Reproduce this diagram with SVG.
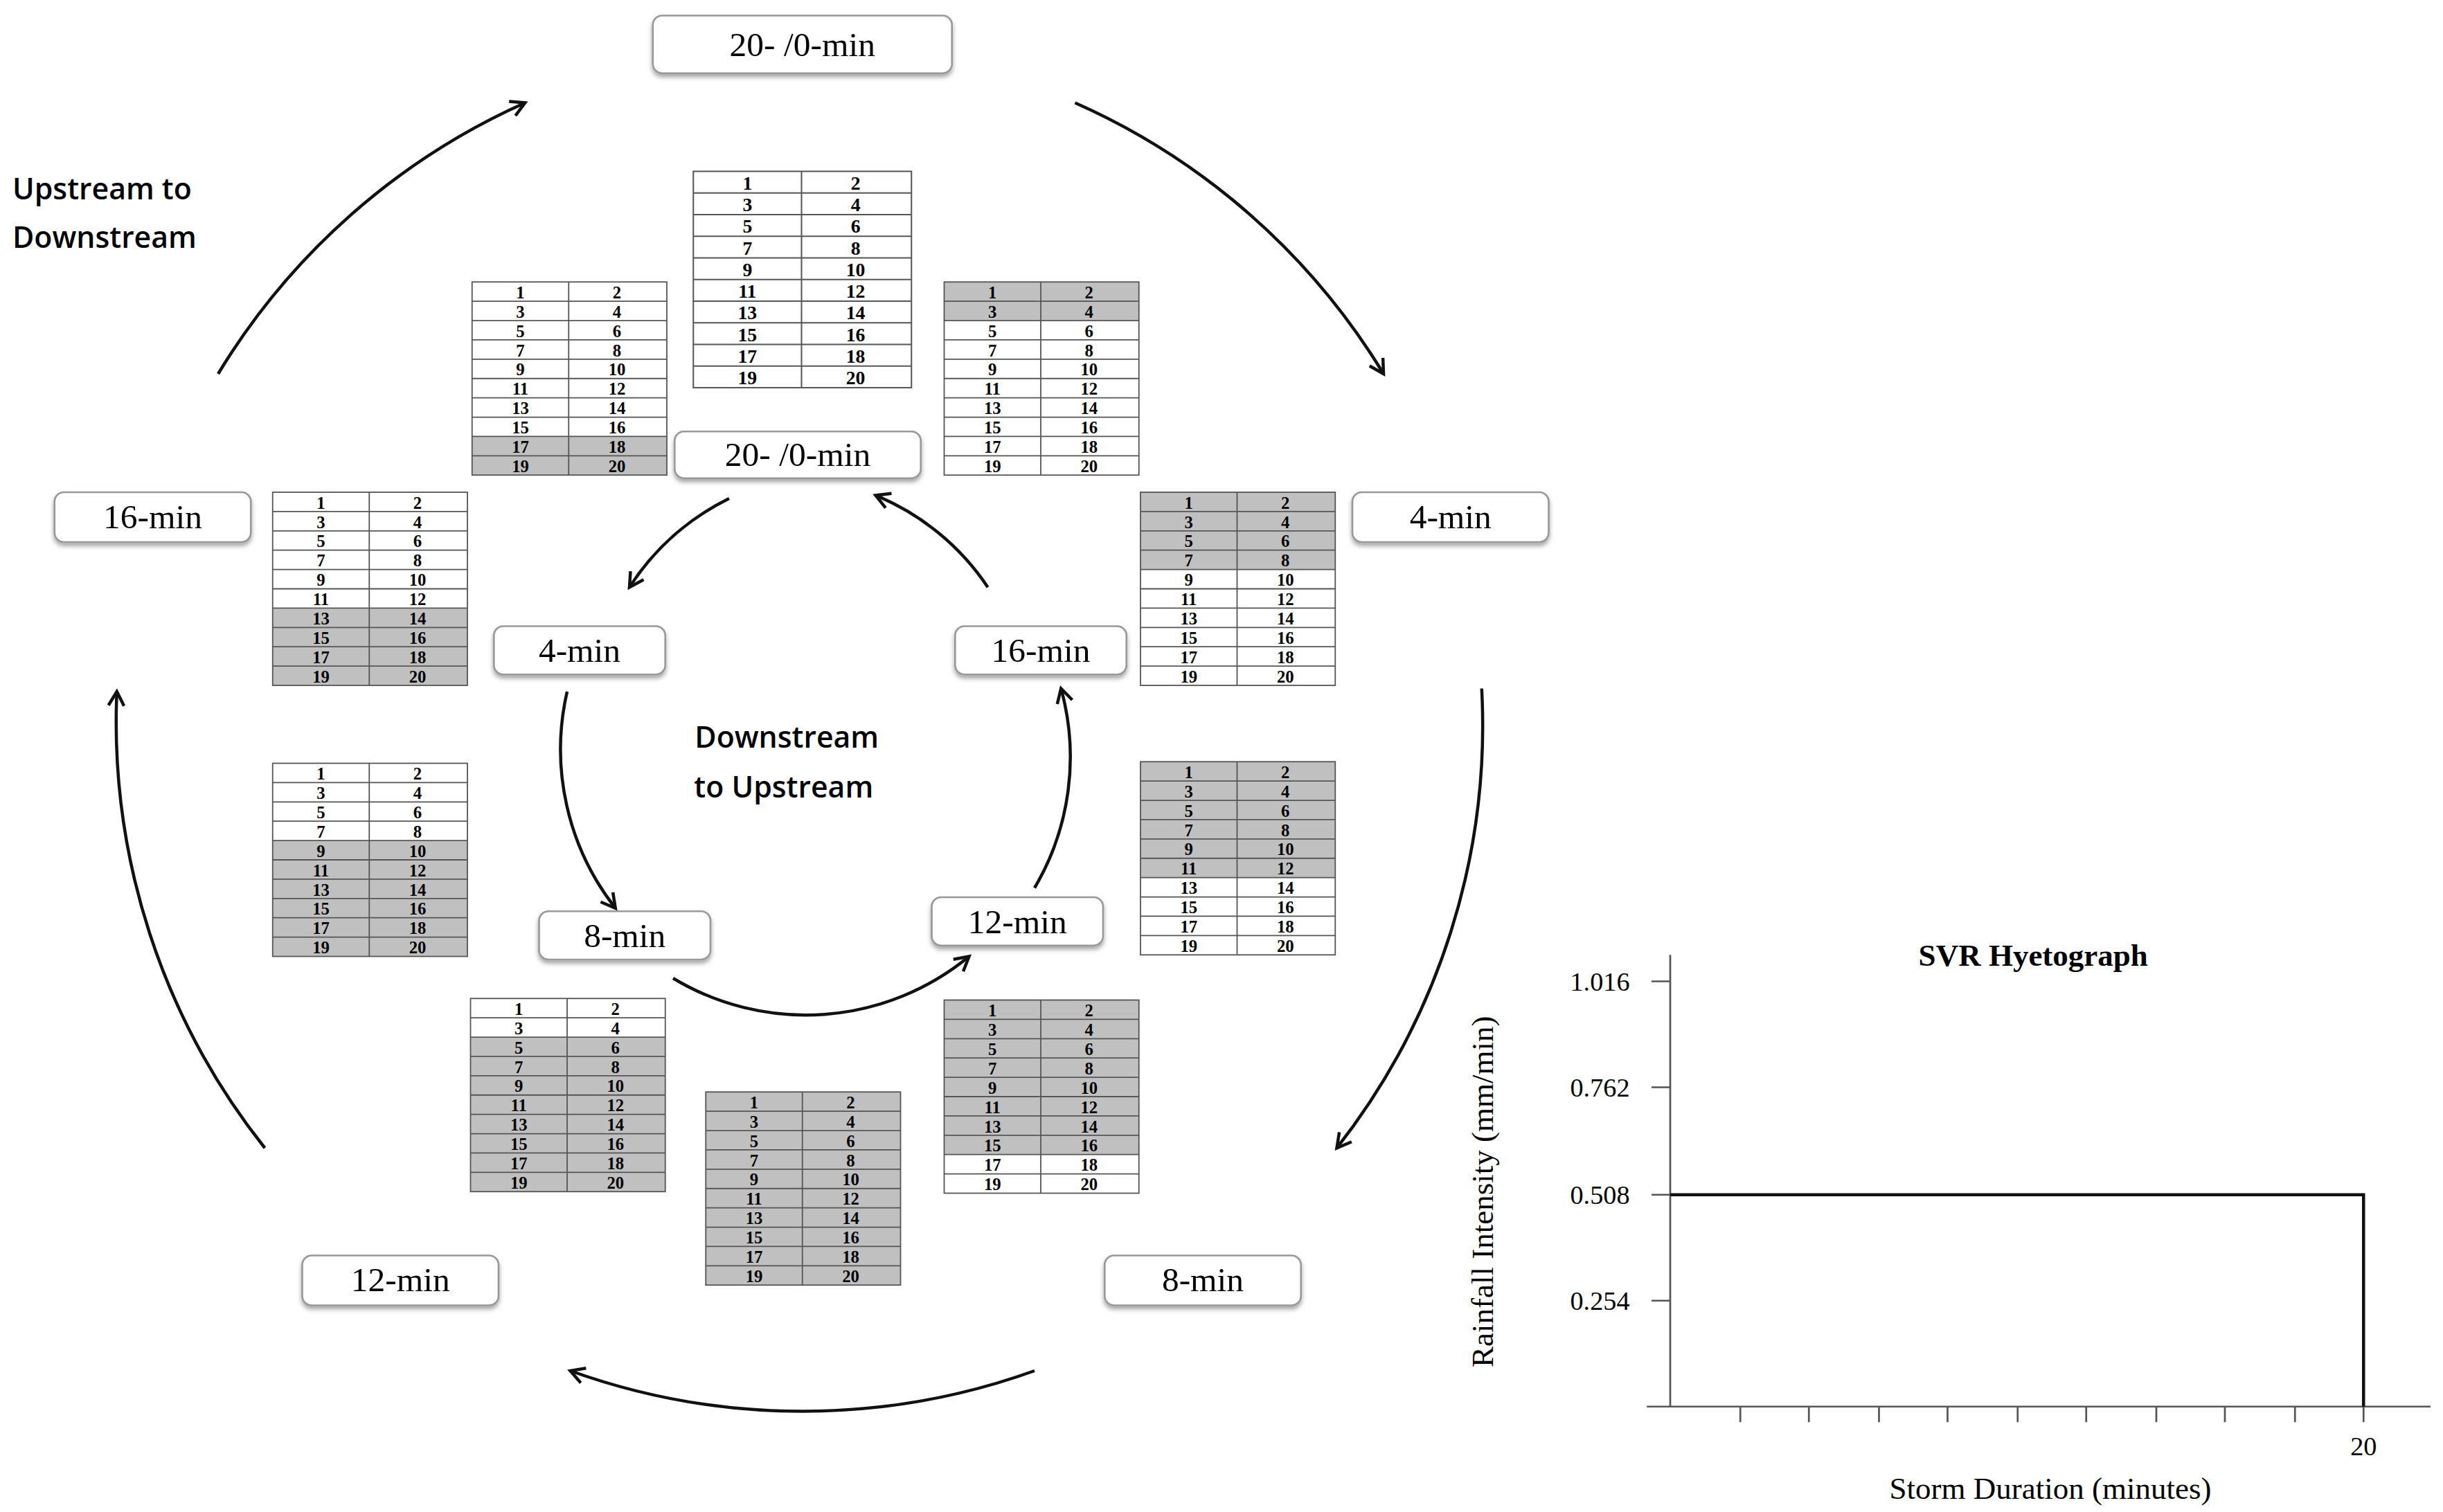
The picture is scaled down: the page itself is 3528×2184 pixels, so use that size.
<svg xmlns="http://www.w3.org/2000/svg" xmlns:xlink="http://www.w3.org/1999/xlink" width="3528" height="2184" viewBox="0 0 3528 2184">
<style>
.n{font-family:"Liberation Serif",serif;font-weight:bold;font-size:11px;text-anchor:middle}
.lb{font-family:"Liberation Serif",serif;font-size:22px;text-anchor:middle}
.box{fill:#fff;stroke:#999;stroke-width:1.2}
.sh{fill:#c0c0c0}
.bg{fill:#fff}
.arc{fill:none;stroke:#111;stroke-width:2}
.ax{fill:none;stroke:#555;stroke-width:1.2}
.tk{font-family:"Liberation Serif",serif;font-size:17px}
.cal{font-family:"Open Sans","Liberation Sans",sans-serif;font-weight:600;font-size:19px}
</style>
<defs>
<marker id="ah" viewBox="0 0 12 12" refX="10" refY="6" markerWidth="12" markerHeight="12" markerUnits="userSpaceOnUse" orient="auto">
<path d="M1,1 L10,6 L1,11" fill="none" stroke="#111" stroke-width="2"/>
</marker>
<filter id="ds" x="-10%" y="-20%" width="120%" height="160%"><feDropShadow dx="0" dy="2" stdDeviation="1.5" flood-opacity="0.35"/></filter>
<g id="tbl">
<g fill="none" stroke="#555" stroke-width="0.8">
<rect x="0" y="0" width="125" height="124"/>
<line x1="62" y1="0" x2="62" y2="124"/>
<path d="M0,12.4H125M0,24.8H125M0,37.2H125M0,49.6H125M0,62H125M0,74.4H125M0,86.8H125M0,99.2H125M0,111.6H125"/>
</g>
<g class="n">
<text x="31" y="10.5">1</text><text x="93" y="10.5">2</text>
<text x="31" y="22.9">3</text><text x="93" y="22.9">4</text>
<text x="31" y="35.3">5</text><text x="93" y="35.3">6</text>
<text x="31" y="47.7">7</text><text x="93" y="47.7">8</text>
<text x="31" y="60.1">9</text><text x="93" y="60.1">10</text>
<text x="31" y="72.5">11</text><text x="93" y="72.5">12</text>
<text x="31" y="84.9">13</text><text x="93" y="84.9">14</text>
<text x="31" y="97.3">15</text><text x="93" y="97.3">16</text>
<text x="31" y="109.7">17</text><text x="93" y="109.7">18</text>
<text x="31" y="122.1">19</text><text x="93" y="122.1">20</text>
</g>
</g>
</defs>
<rect width="3528" height="2184" fill="#fff"/>
<g transform="scale(2.25)">
<!-- tables -->
<g id="t0" transform="translate(445,110) scale(1.12)"><rect class="bg" width="125" height="124"/><use xlink:href="#tbl"/></g>
<g id="t16o" transform="translate(303,181)"><rect class="bg" width="125" height="124"/><rect class="sh" y="99.2" width="125" height="24.8"/><use xlink:href="#tbl"/></g>
<g id="t4o" transform="translate(606,181)"><rect class="bg" width="125" height="124"/><rect class="sh" width="125" height="24.8"/><use xlink:href="#tbl"/></g>
<g id="t12l" transform="translate(175,316)"><rect class="bg" width="125" height="124"/><rect class="sh" y="74.4" width="125" height="49.6"/><use xlink:href="#tbl"/></g>
<g id="t8r" transform="translate(732,316)"><rect class="bg" width="125" height="124"/><rect class="sh" width="125" height="49.6"/><use xlink:href="#tbl"/></g>
<g id="t8l" transform="translate(175,490)"><rect class="bg" width="125" height="124"/><rect class="sh" y="49.6" width="125" height="74.4"/><use xlink:href="#tbl"/></g>
<g id="t12r" transform="translate(732,489)"><rect class="bg" width="125" height="124"/><rect class="sh" width="125" height="74.4"/><use xlink:href="#tbl"/></g>
<g id="t4l" transform="translate(302,641)"><rect class="bg" width="125" height="124"/><rect class="sh" y="24.8" width="125" height="99.2"/><use xlink:href="#tbl"/></g>
<g id="t16r" transform="translate(606,642)"><rect class="bg" width="125" height="124"/><rect class="sh" width="125" height="99.2"/><use xlink:href="#tbl"/></g>
<g id="tall" transform="translate(453,701)"><rect class="sh" width="125" height="124"/><use xlink:href="#tbl"/></g>

<!-- labels -->
<g id="L20o"><rect class="box" filter="url(#ds)" x="419" y="10" width="192" height="37" rx="6"/><text class="lb" x="515" y="36">20- /0-min</text></g>
<g id="L4o"><rect class="box" filter="url(#ds)" x="868" y="316" width="126" height="32" rx="6"/><text class="lb" x="931" y="339">4-min</text></g>
<g id="L16o"><rect class="box" filter="url(#ds)" x="35" y="316" width="126" height="32" rx="6"/><text class="lb" x="98" y="339">16-min</text></g>
<g id="L12o"><rect class="box" filter="url(#ds)" x="194" y="806" width="126" height="32" rx="6"/><text class="lb" x="257" y="829">12-min</text></g>
<g id="L8o"><rect class="box" filter="url(#ds)" x="709" y="806" width="126" height="32" rx="6"/><text class="lb" x="772" y="829">8-min</text></g>
<g id="L20i"><rect class="box" filter="url(#ds)" x="433" y="277" width="158" height="30" rx="6"/><text class="lb" x="512" y="299">20- /0-min</text></g>
<g id="L4i"><rect class="box" filter="url(#ds)" x="317" y="402" width="110" height="31" rx="6"/><text class="lb" x="372" y="425">4-min</text></g>
<g id="L16i"><rect class="box" filter="url(#ds)" x="613" y="402" width="110" height="31" rx="6"/><text class="lb" x="668" y="425">16-min</text></g>
<g id="L8i"><rect class="box" filter="url(#ds)" x="346" y="585" width="110" height="31" rx="6"/><text class="lb" x="401" y="608">8-min</text></g>
<g id="L12i"><rect class="box" filter="url(#ds)" x="598" y="576" width="110" height="31" rx="6"/><text class="lb" x="653" y="599">12-min</text></g>

<text class="cal" x="8" y="128">Upstream to</text>
<text class="cal" x="8" y="159">Downstream</text>
<text class="cal" x="505" y="480" text-anchor="middle">Downstream</text>
<text class="cal" x="503" y="512" text-anchor="middle">to Upstream</text>

<!-- connectors -->
<g id="connectors" marker-end="url(#ah)">
<path class="arc" d="M140,240 A440,440 0 0 1 337,66"/>
<path class="arc" d="M690,66 A440,440 0 0 1 888,240"/>
<path class="arc" d="M951,442 A440,440 0 0 1 858,737"/>
<path class="arc" d="M664,880 A440,440 0 0 1 366,880"/>
<path class="arc" d="M170,737 A440,440 0 0 1 75,444"/>
<path class="arc" d="M468,320 A160,160 0 0 0 404,377"/>
<path class="arc" d="M364,444 A165,165 0 0 0 395,583"/>
<path class="arc" d="M432,628 A165,165 0 0 0 622,614"/>
<path class="arc" d="M664,570 A165,165 0 0 0 681,442"/>
<path class="arc" d="M634,377 A160,160 0 0 0 562,318"/>
</g>

<!-- chart -->
<g id="chart">
<path class="ax" d="M1072,613 V903 M1057,903 H1560"/>
<path class="ax" d="M1060,630H1072M1060,698H1072M1060,767H1072M1060,835H1072"/>
<path class="ax" d="M1117,903V913M1161,903V913M1206,903V913M1250,903V913M1295,903V913M1339,903V913M1384,903V913M1428,903V913M1473,903V913M1517,903V913"/>
<path d="M1072,767 H1517 V903" fill="none" stroke="#111" stroke-width="2"/>
<g class="tk" text-anchor="end">
<text x="1046" y="636">1.016</text><text x="1046" y="704">0.762</text><text x="1046" y="773">0.508</text><text x="1046" y="841">0.254</text>
</g>
<text class="tk" x="1517" y="934" text-anchor="middle">20</text>
<text class="tk" x="1316" y="962" text-anchor="middle" style="font-size:20px">Storm Duration (minutes)</text>
<text x="1305" y="620" text-anchor="middle" style="font-family:'Liberation Serif',serif;font-weight:bold;font-size:20px">SVR Hyetograph</text>
<text transform="translate(958,765) rotate(-90)" text-anchor="middle" style="font-family:'Liberation Serif',serif;font-size:20px">Rainfall Intensity (mm/min)</text>
</g>
</g>
</svg>
